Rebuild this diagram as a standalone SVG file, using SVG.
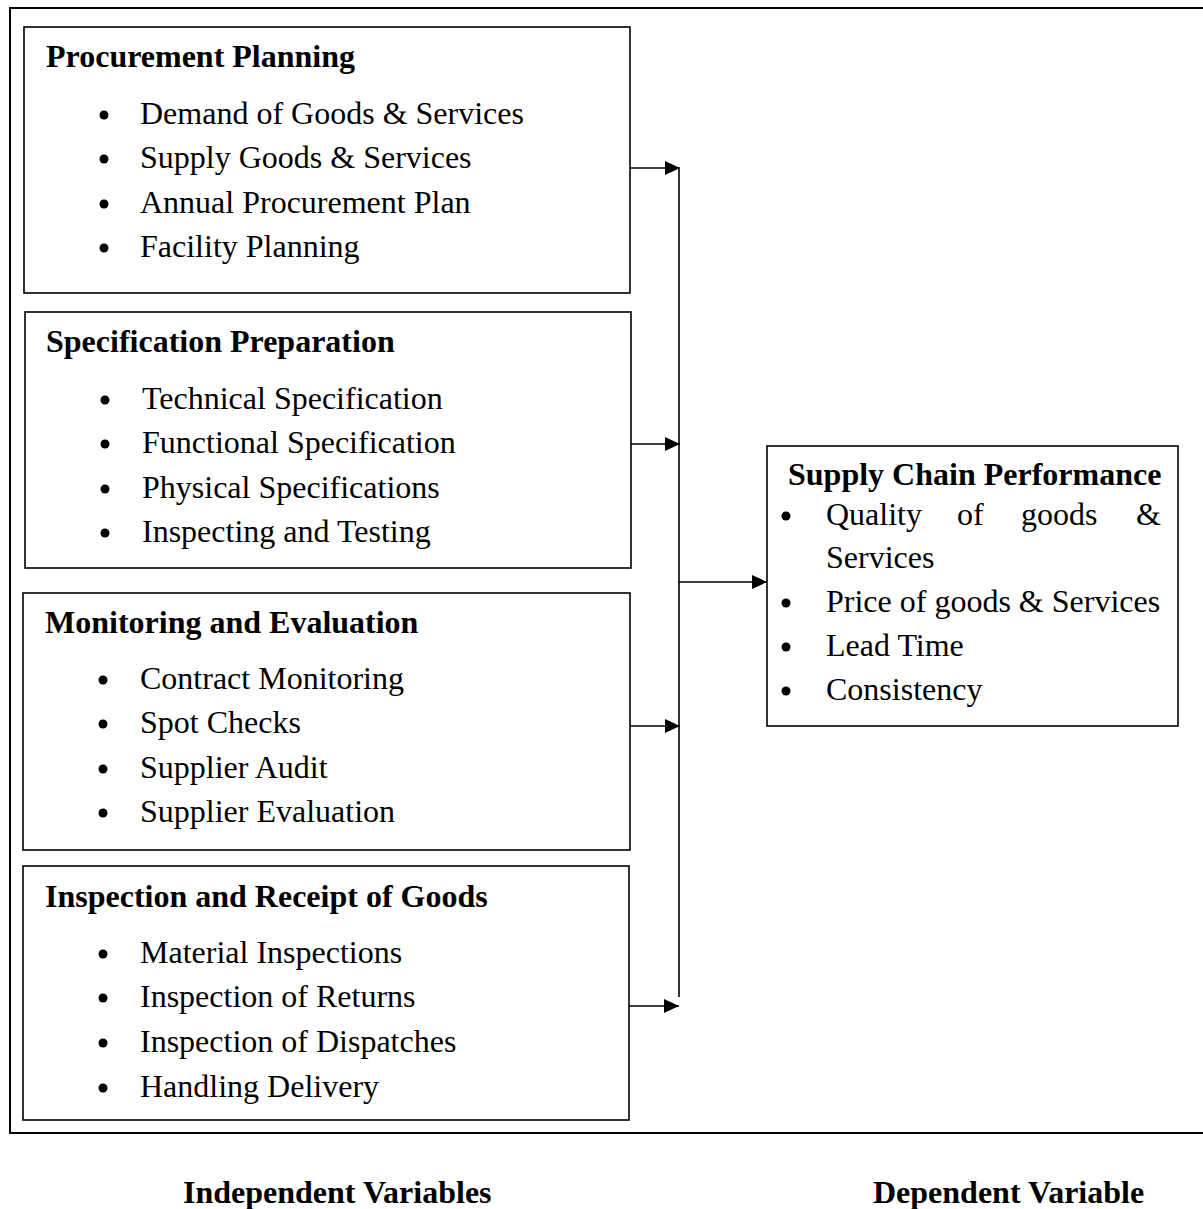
<svg xmlns="http://www.w3.org/2000/svg" width="1203" height="1209" viewBox="0 0 1203 1209">
<style>
.box{fill:none;stroke:#000;stroke-width:1.6}
.t{font-family:"Liberation Serif","Times New Roman",serif;font-size:32px;fill:#000}
.b{font-weight:bold}
.conn{stroke:#000;stroke-width:1.6;fill:none}
.dot{fill:#000}
</style>
<defs>
<marker id="ah" markerWidth="16" markerHeight="14" refX="15" refY="7" orient="auto" markerUnits="userSpaceOnUse">
<path d="M0,0 L15,7 L0,14 Z" fill="#000"/>
</marker>
</defs>
<rect width="1203" height="1209" fill="#fff"/>
<rect x="10" y="8" width="1200" height="1125" fill="none" stroke="#000" stroke-width="2"/>

<g id="procurement-planning">
<rect class="box" x="24" y="27" width="606" height="266"/>
<text class="t b" x="46" y="67">Procurement Planning</text>
<circle class="dot" cx="104" cy="115" r="4.5"/><text class="t" x="140" y="124">Demand of Goods &amp; Services</text>
<circle class="dot" cx="104" cy="159" r="4.5"/><text class="t" x="140" y="168">Supply Goods &amp; Services</text>
<circle class="dot" cx="104" cy="204" r="4.5"/><text class="t" x="140" y="213">Annual Procurement Plan</text>
<circle class="dot" cx="104" cy="248" r="4.5"/><text class="t" x="140" y="257">Facility Planning</text>
</g>

<g id="specification-preparation">
<rect class="box" x="25" y="312" width="606" height="256"/>
<text class="t b" x="46" y="352">Specification Preparation</text>
<circle class="dot" cx="105" cy="400" r="4.5"/><text class="t" x="142" y="409">Technical Specification</text>
<circle class="dot" cx="105" cy="444" r="4.5"/><text class="t" x="142" y="453">Functional Specification</text>
<circle class="dot" cx="105" cy="489" r="4.5"/><text class="t" x="142" y="498">Physical Specifications</text>
<circle class="dot" cx="105" cy="533" r="4.5"/><text class="t" x="142" y="542">Inspecting and Testing</text>
</g>

<g id="monitoring-evaluation">
<rect class="box" x="23" y="593" width="607" height="257"/>
<text class="t b" x="45" y="633">Monitoring and Evaluation</text>
<circle class="dot" cx="103" cy="680" r="4.5"/><text class="t" x="140" y="689">Contract Monitoring</text>
<circle class="dot" cx="103" cy="724" r="4.5"/><text class="t" x="140" y="733">Spot Checks</text>
<circle class="dot" cx="103" cy="769" r="4.5"/><text class="t" x="140" y="778">Supplier Audit</text>
<circle class="dot" cx="103" cy="813" r="4.5"/><text class="t" x="140" y="822">Supplier Evaluation</text>
</g>

<g id="inspection-receipt">
<rect class="box" x="23" y="866" width="606" height="254"/>
<text class="t b" x="45" y="907">Inspection and Receipt of Goods</text>
<circle class="dot" cx="103" cy="954" r="4.5"/><text class="t" x="140" y="963">Material Inspections</text>
<circle class="dot" cx="103" cy="998" r="4.5"/><text class="t" x="140" y="1007">Inspection of Returns</text>
<circle class="dot" cx="103" cy="1043" r="4.5"/><text class="t" x="140" y="1052">Inspection of Dispatches</text>
<circle class="dot" cx="103" cy="1088" r="4.5"/><text class="t" x="140" y="1097">Handling Delivery</text>
</g>

<g id="supply-chain-performance">
<rect class="box" x="767" y="446" width="411" height="280"/>
<text class="t b" x="788" y="485">Supply Chain Performance</text>
<circle class="dot" cx="786" cy="516" r="4.5"/>
<text class="t" y="525"><tspan x="826">Quality</tspan><tspan x="957">of</tspan><tspan x="1021">goods</tspan><tspan x="1136">&amp;</tspan></text>
<text class="t" x="826" y="568">Services</text>
<circle class="dot" cx="786" cy="603" r="4.5"/><text class="t" x="826" y="612">Price of goods &amp; Services</text>
<circle class="dot" cx="786" cy="647" r="4.5"/><text class="t" x="826" y="656">Lead Time</text>
<circle class="dot" cx="786" cy="691" r="4.5"/><text class="t" x="826" y="700">Consistency</text>
</g>

<g id="connectors">
<line class="conn" x1="679" y1="168" x2="679" y2="997"/>
<line class="conn" x1="630" y1="168" x2="680" y2="168" marker-end="url(#ah)"/>
<line class="conn" x1="631" y1="444" x2="680" y2="444" marker-end="url(#ah)"/>
<line class="conn" x1="630" y1="726" x2="680" y2="726" marker-end="url(#ah)"/>
<line class="conn" x1="629" y1="1006" x2="679" y2="1006" marker-end="url(#ah)"/>
<line class="conn" x1="679" y1="582" x2="767" y2="582" marker-end="url(#ah)"/>
</g>

<g id="labels">
<text class="t b" x="183" y="1203">Independent Variables</text>
<text class="t b" x="873" y="1203">Dependent Variable</text>
</g>
</svg>
